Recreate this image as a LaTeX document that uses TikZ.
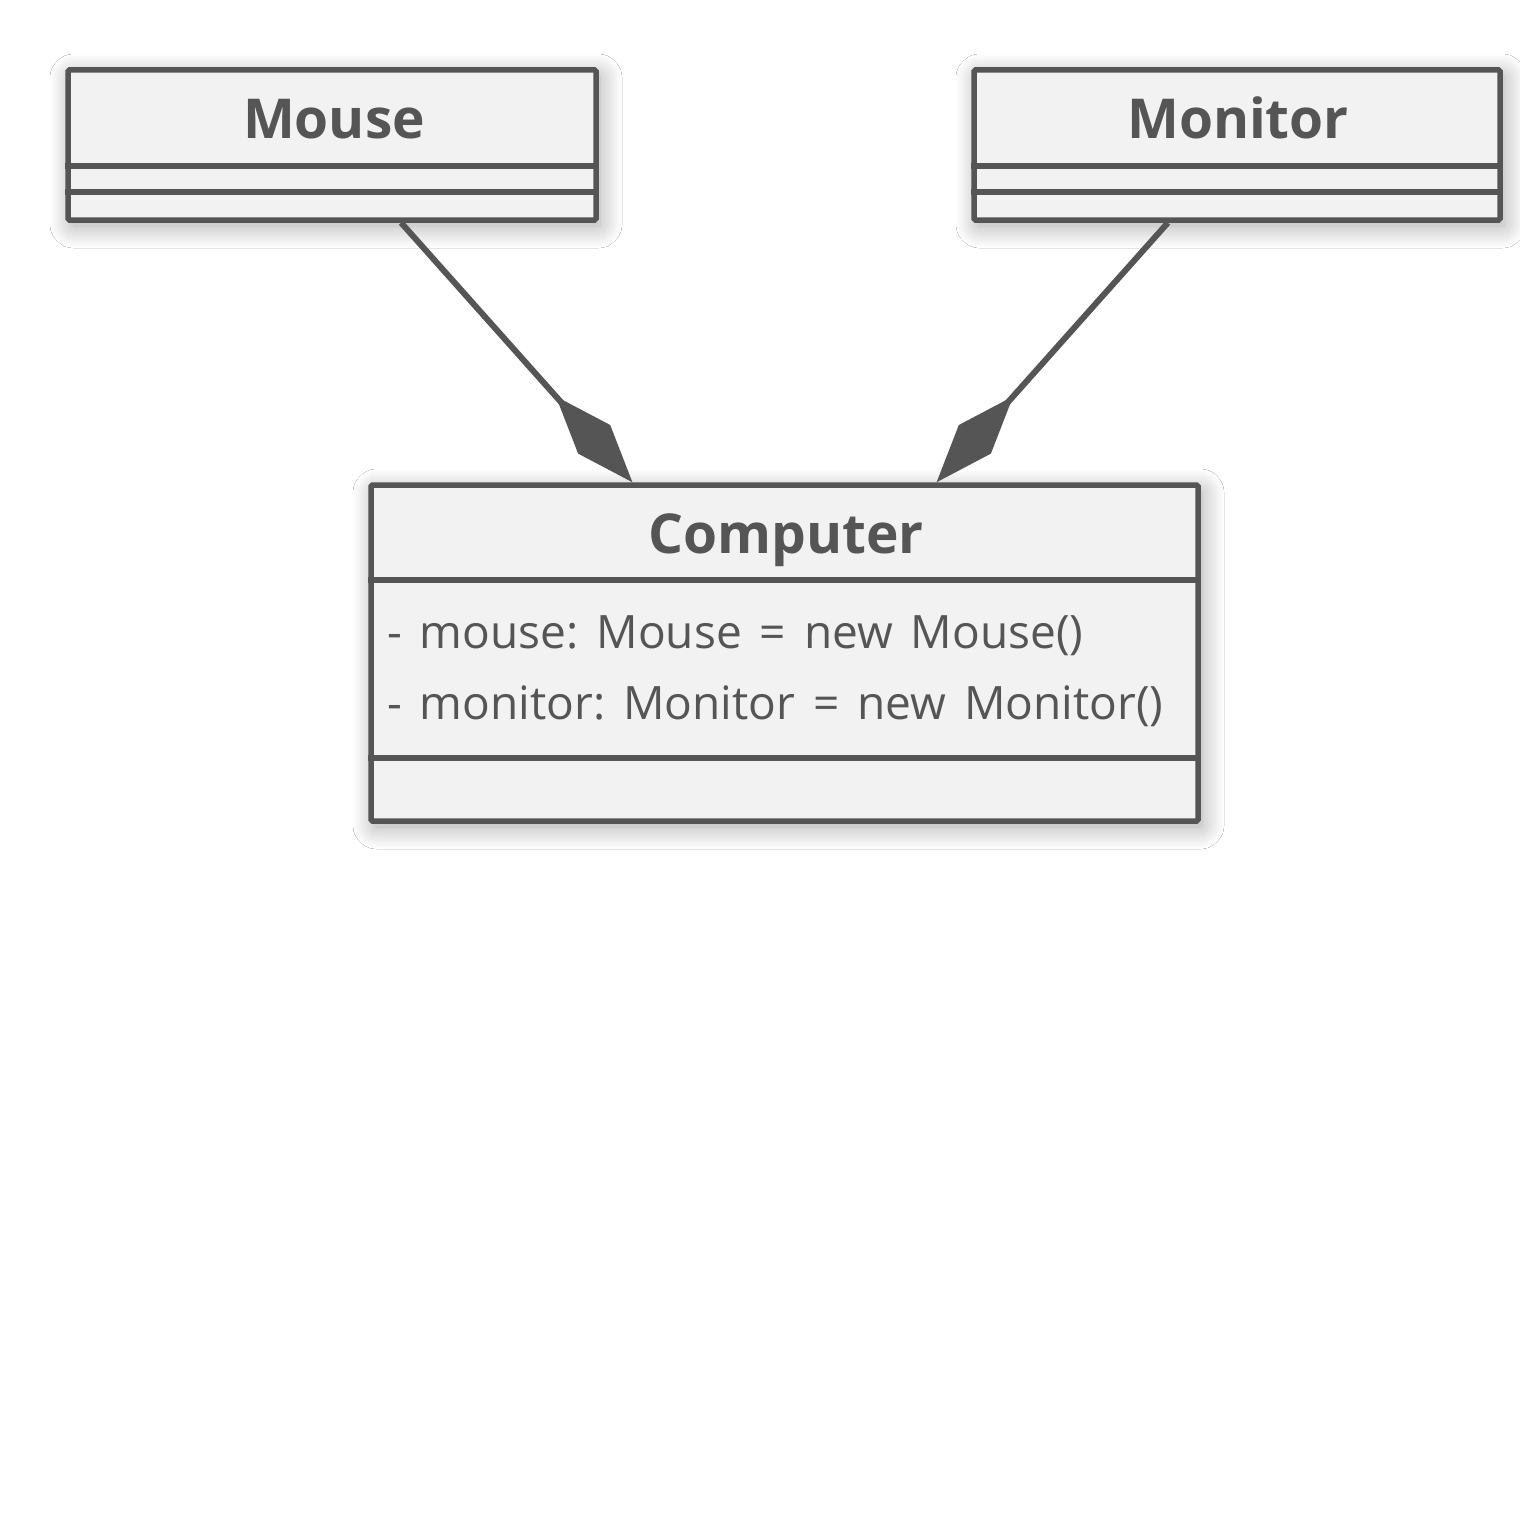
\documentclass[tikz,border=0pt]{standalone}
\usepackage{fontspec}
\setmainfont{Open Sans}[WordSpace=1.5]
\usetikzlibrary{arrows.meta,shadows.blur}
\definecolor{umlgray}{HTML}{555555}
\definecolor{umlfill}{HTML}{F2F2F2}
\tikzset{
  classbox/.style={draw=umlgray,fill=umlfill,line width=5.5pt,rectangle,rounded corners=1.5pt,
    blur shadow={shadow xshift=4pt,shadow yshift=-6pt,shadow blur radius=22pt,shadow opacity=35,shadow blur steps=24}},
  classname/.style={text=umlgray,font=\fontsize{55}{66}\selectfont\bfseries,inner sep=0pt,anchor=base},
  attr/.style={text=umlgray,font=\fontsize{46}{55}\selectfont,inner sep=0pt,anchor=base west},
  divider/.style={draw=umlgray,line width=5.5pt},
  compose/.style={draw=umlgray,line width=6pt,-{Diamond[length=115pt,width=43pt]}},
}
\begin{document}
\frenchspacing
\begin{tikzpicture}[x=1pt,y=-1pt]
\useasboundingbox[fill=white] (0,0) rectangle (1520,1520);
% classes
\node[classbox,minimum width=528pt,minimum height=150pt] (mouse) at (332,145) {};
\node[classbox,minimum width=526pt,minimum height=150pt] (monitor) at (1237,145) {};
\node[classbox,minimum width=827pt,minimum height=336pt] (computer) at (784.5,653) {};
% compartments
\draw[divider] (mouse.west |- 0,166) -- (mouse.east |- 0,166) (mouse.west |- 0,192) -- (mouse.east |- 0,192);
\draw[divider] (monitor.west |- 0,166) -- (monitor.east |- 0,166) (monitor.west |- 0,192) -- (monitor.east |- 0,192);
\draw[divider] (computer.west |- 0,580) -- (computer.east |- 0,580) (computer.west |- 0,758) -- (computer.east |- 0,758);
% texts
\node[classname] (mousename) at (334,138) {Mouse};
\node[classname] (monitorname) at (1238,138) {Monitor};
\node[classname] (computername) at (786,553) {Computer};
\node[attr] (attrmouse) at (387,648) {- mouse: Mouse = new Mouse()};
\node[attr] (attrmonitor) at (387,719) {- monitor: Monitor = new Monitor()};
% composition
\draw[compose] (mouse) -- (computer);
\draw[compose] (monitor) -- (computer);
\end{tikzpicture}
\end{document}
